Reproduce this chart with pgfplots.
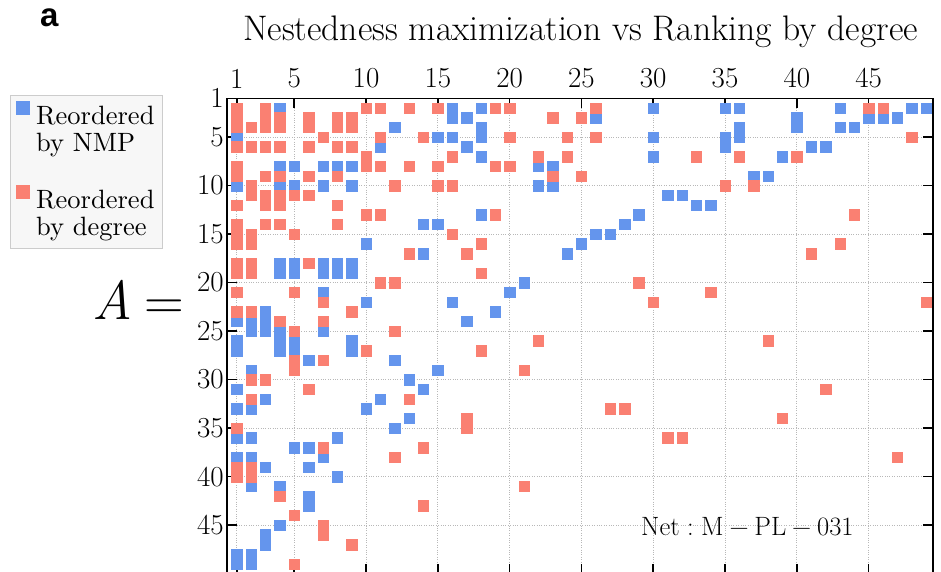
\documentclass[border=0pt]{standalone}
\usepackage{fontspec}
\usepackage{pgfplots}
\pgfplotsset{compat=1.18}
\newfontfamily\sansa{Liberation Sans}
\newfontfamily\lmten{lmroman10-regular}[Extension=.otf]
\definecolor{cblue}{RGB}{100,149,237}
\definecolor{cred}{RGB}{250,128,114}
\pgfplotstableread{
x y
1 5
1 10
4 2
4 8
4 10
5 8
5 10
7 8
7 10
8 8
9 8
9 10
11 6
12 4
15 5
16 2
16 3
16 5
17 3
17 6
18 2
18 4
18 5
18 7
18 13
22 8
22 10
23 8
23 10
26 3
29 13
30 2
30 5
30 7
31 11
32 11
33 12
34 12
35 2
35 5
35 6
36 2
36 4
36 5
37 9
38 9
39 7
40 3
40 4
41 6
42 6
43 2
43 4
44 4
45 3
46 3
47 3
48 2
49 2
4 18
4 19
5 18
5 19
7 18
7 19
7 21
7 25
8 18
8 19
9 18
9 19
10 16
10 22
14 14
14 17
15 14
16 22
17 24
19 23
20 21
21 20
24 17
25 16
26 15
27 15
28 14
1 24
2 24
2 25
3 23
3 24
3 25
4 25
4 26
4 27
1 26
1 27
1 31
1 33
1 36
2 29
2 33
2 36
3 32
5 26
5 27
6 28
8 36
9 26
9 27
10 33
11 32
12 28
12 35
13 30
13 34
14 31
15 29
1 38
1 48
1 49
2 38
2 41
2 48
2 49
3 39
3 46
3 47
4 41
4 45
5 37
6 37
6 39
6 42
6 43
7 38
8 40
}\bluedata
\pgfplotstableread{
x y
1 2
1 3
1 4
1 6
1 8
1 9
1 12
1 14
1 15
1 16
1 18
1 19
1 21
1 23
1 35
1 39
1 40
2 4
2 6
2 10
2 11
2 15
2 16
2 18
2 19
2 23
2 30
2 32
2 39
2 40
3 2
3 3
3 4
3 6
3 9
3 11
3 12
3 14
3 30
4 3
4 4
4 6
4 9
4 11
4 12
4 14
4 24
4 42
5 11
5 15
5 21
5 25
5 28
5 29
5 44
5 49
6 3
6 4
6 6
6 9
6 11
6 18
6 31
7 5
7 22
7 24
7 28
7 37
7 45
7 46
8 3
8 4
8 6
8 9
8 12
8 14
9 3
9 4
9 6
9 23
9 47
10 2
10 7
10 8
10 13
10 27
11 2
11 5
11 8
11 13
11 20
12 10
12 20
12 25
12 38
13 2
13 8
13 17
13 32
14 5
14 37
14 43
15 2
15 8
15 10
16 7
16 10
16 15
17 17
17 34
17 35
18 16
18 19
18 27
19 2
19 8
19 13
20 2
20 5
20 8
21 29
21 41
22 7
22 26
23 3
23 9
24 5
24 7
25 3
25 9
26 2
26 5
27 33
28 33
29 20
30 22
31 36
32 36
33 7
34 21
35 10
36 7
37 10
38 26
39 34
40 7
41 17
42 31
43 16
44 13
45 2
46 2
47 38
48 5
49 22
}\reddata
\begin{document}
\begin{tikzpicture}
\useasboundingbox (0pt,0pt) rectangle (941pt,-572pt);
\begin{axis}[
  at={(227pt,-98.3pt)}, anchor=north west,
  scale only axis, width=705.7pt, height=475.3pt,
  xmin=0.32, xmax=49.46, ymin=1, ymax=50, y dir=reverse,
  axis line style={line width=1.6pt},
  xtick={1,5,10,15,20,25,30,35,40,45},
  ytick={1,5,10,15,20,25,30,35,40,45},
  tick pos=both, tick align=inside,
  xticklabel pos=right, yticklabel pos=left,
  major tick length=10pt,
  major tick style={line width=1.6pt, black},
  grid=major, grid style={dotted, black!28, line width=0.8pt},
  /pgf/number format/assume math mode=true,
  ticklabel style={font=\fontsize{29}{29}\selectfont, inner sep=1pt},
  xticklabel style={yshift=9pt},
  yticklabel style={xshift=-2pt},
  legend style={at={(axis description cs:-0.3075,1.0069)}, anchor=north west,
    draw=black!20, fill=black!3, line width=0.8pt,
    font=\fontsize{26.5}{26.5}\selectfont\lmten, inner xsep=6pt, inner ysep=6pt,
    row sep=0pt, column sep=4pt,
    nodes={text height=20pt, text depth=7pt, inner ysep=0pt}},
  legend cell align=left,
]
\addplot[only marks, mark=square*, mark size=5.2pt, color=cblue,
  legend image code/.code={\fill[cblue] (0pt,3pt) rectangle (13pt,16pt);}]
  table[x=x,y=y] {\bluedata};
\addlegendentry{Reordered}
\addlegendimage{empty legend}
\addlegendentry{by NMP}
\addlegendimage{empty legend}
\addlegendentry{\mbox{}}
\addplot[only marks, mark=square*, mark size=5.2pt, color=cred,
  legend image code/.code={\fill[cred] (0pt,3pt) rectangle (13pt,16pt);}]
  table[x=x,y=y] {\reddata};
\addlegendentry{Reordered}
\addlegendimage{empty legend}
\addlegendentry{by degree}
\end{axis}
\node[anchor=base, inner sep=0pt] at (580.5pt,-41pt) {\fontsize{35.5}{36}\selectfont Nestedness maximization vs Ranking by degree};
\node[anchor=base west, inner sep=0pt] at (40pt,-27pt) {\sansa\bfseries\fontsize{33}{33}\selectfont a};
\node[inner sep=0pt] at (138.5pt,-300pt) {\fontsize{55}{55}\selectfont\itshape A\upshape\hspace{0.22em}=};
\node[anchor=base west, inner sep=0pt] at (641pt,-535pt) {\fontsize{26.5}{26.5}\selectfont Net\hspace{0.28em}:\hspace{0.28em}M\hspace{0.22em}−\hspace{0.22em}PL\hspace{0.22em}−\hspace{0.22em}031};
\end{tikzpicture}
\end{document}
